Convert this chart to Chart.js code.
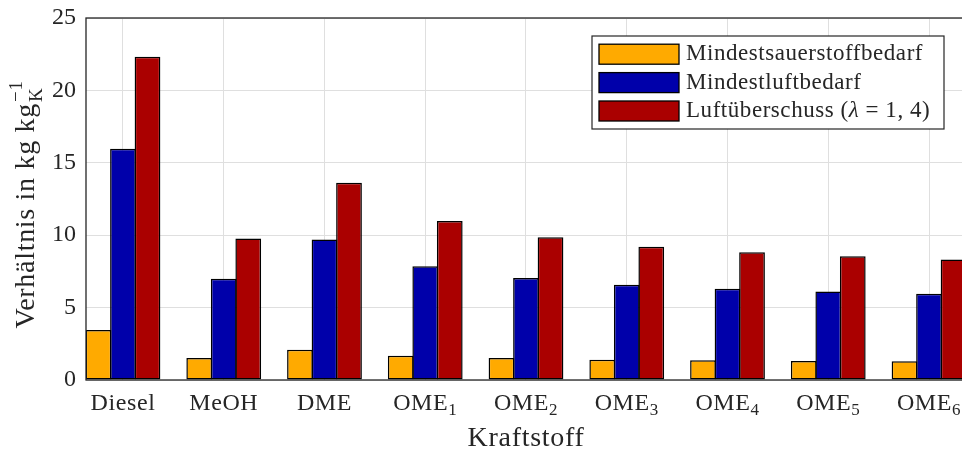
<!DOCTYPE html>
<html>
<head>
<meta charset="utf-8">
<script src="https://cdn.jsdelivr.net/npm/chart.js@4"></script>
<style>
  html, body { margin: 0; padding: 0; background: #fff; overflow: hidden; }
  canvas { display: block; }
</style>
</head>
<body>
<canvas id="chart" width="970" height="456" style="width:970px;height:456px"></canvas>
<script>
// Kraftstoffe (Teil nach "_" wird tiefgestellt)
const categories = ['Diesel', 'MeOH', 'DME', 'OME_1', 'OME_2', 'OME_3', 'OME_4', 'OME_5', 'OME_6'];
const seriesLabels = ['Mindestsauerstoffbedarf', 'Mindestluftbedarf', 'Luftüberschuss (λ = 1, 4)'];
const oxygenMin = [3.45, 1.52, 2.09, 1.68, 1.52, 1.40, 1.36, 1.31, 1.29];
const airMin = [15.97, 7.00, 9.71, 7.85, 7.04, 6.58, 6.31, 6.12, 5.96];
const airExcess = [22.33, 9.78, 13.63, 10.98, 9.85, 9.21, 8.82, 8.54, 8.33];
const yTicks = [0, 5, 10, 15, 20, 25];

const seriesColors = ['#ffaa00', '#0000aa', '#aa0000'];
const axisColor = '#262626';
const fontName = '"Liberation Serif", "Times New Roman", serif';

const toPoints = arr => arr.map((v, i) => ({ x: i, y: v }));

// Achsenbeschriftungen, Rahmen und Legende
const decor = {
    id: 'decor',
    afterDatasetsDraw(chart) {
        const { ctx, chartArea: a, scales } = chart;
        ctx.save();

        // Rahmen (box on)
        ctx.strokeStyle = axisColor;
        ctx.lineWidth = 1.3;
        ctx.strokeRect(a.left, a.top, a.right - a.left, a.bottom - a.top);

        ctx.fillStyle = axisColor;
        ctx.textBaseline = 'alphabetic';

        // x-Tick-Beschriftungen mit Index
        ctx.letterSpacing = '0.6px';
        categories.forEach((label, i) => {
            const [main, sub] = label.split('_');
            const cx = scales.x.getPixelForValue(i);
            ctx.font = '24px ' + fontName;
            const wMain = ctx.measureText(main).width;
            ctx.font = '17px ' + fontName;
            const wSub = sub ? ctx.measureText(sub).width : 0;
            const x0 = cx - (wMain + wSub) / 2;
            ctx.font = '24px ' + fontName;
            ctx.textAlign = 'left';
            ctx.fillText(main, x0, 410);
            if (sub) {
                ctx.font = '17px ' + fontName;
                ctx.fillText(sub, x0 + wMain, 415);
            }
        });

        // x-Achsentitel
        ctx.letterSpacing = '0.7px';
        ctx.font = '28px ' + fontName;
        ctx.textAlign = 'center';
        ctx.fillText('Kraftstoff', (a.left + a.right) / 2, 446);

        // y-Achsentitel: Verhältnis in kg kg_K^-1
        ctx.save();
        ctx.translate(34, (a.top + a.bottom) / 2 + 6);
        ctx.rotate(-Math.PI / 2);
        ctx.textAlign = 'left';
        const mainTxt = 'Verhältnis in kg kg';
        ctx.font = '28px ' + fontName;
        const wm = ctx.measureText(mainTxt).width;
        ctx.font = '19px ' + fontName;
        const wk = ctx.measureText('K').width;
        const ws = ctx.measureText('−1').width;
        const total = wm + Math.max(wk, ws);
        const sx = -total / 2;
        ctx.font = '28px ' + fontName;
        ctx.fillText(mainTxt, sx, 0);
        ctx.font = '19px ' + fontName;
        ctx.fillText('K', sx + wm + 1, 8);
        ctx.fillText('−1', sx + wm + 1, -12);
        ctx.restore();

        // Legende
        const lx = 592, ly = 36, lw = 352, lh = 93;
        ctx.fillStyle = '#fff';
        ctx.fillRect(lx, ly, lw, lh);
        ctx.strokeStyle = axisColor;
        ctx.lineWidth = 1.2;
        ctx.strokeRect(lx, ly, lw, lh);
        ctx.letterSpacing = '0.55px';
        chart.data.datasets.forEach((ds, i) => {
            const cy = 54.2 + i * 28.4;
            ctx.fillStyle = ds.backgroundColor;
            ctx.fillRect(599, cy - 10, 80, 20);
            ctx.strokeStyle = '#000';
            ctx.lineWidth = 1.3;
            ctx.strokeRect(599, cy - 10, 80, 20);
            ctx.fillStyle = axisColor;
            ctx.textAlign = 'left';
            const parts = ds.label.split('λ');
            let tx = 686;
            parts.forEach((p, k) => {
                ctx.font = '23px ' + fontName;
                ctx.fillText(p, tx, cy + 6);
                tx += ctx.measureText(p).width;
                if (k < parts.length - 1) {
                    ctx.font = 'italic 23px ' + fontName;
                    ctx.fillText('λ', tx, cy + 6);
                    tx += ctx.measureText('λ').width;
                }
            });
        });

        ctx.restore();
    }
};

const ctx = document.getElementById('chart').getContext('2d');
new Chart(ctx, {
    type: 'bar',
    data: {
        datasets: [
            { label: seriesLabels[0], data: toPoints(oxygenMin), backgroundColor: seriesColors[0] },
            { label: seriesLabels[1], data: toPoints(airMin), backgroundColor: seriesColors[1] },
            { label: seriesLabels[2], data: toPoints(airExcess), backgroundColor: seriesColors[2] }
        ]
    },
    options: {
        responsive: false,
        animation: false,
        devicePixelRatio: 1,
        layout: { padding: { left: 0, top: 18, right: 4, bottom: 0 } },
        datasets: {
            bar: {
                categoryPercentage: 0.73,
                barPercentage: 1.05,
                borderColor: '#000',
                borderWidth: 1.5,
                borderSkipped: false
            }
        },
        plugins: {
            legend: { display: false },
            tooltip: { enabled: false }
        },
        scales: {
            x: {
                type: 'linear',
                offset: false,
                min: -0.367,
                max: 8.367,
                afterBuildTicks: axis => { axis.ticks = categories.map((c, i) => ({ value: i })); },
                afterFit: axis => { axis.height = 76; axis.paddingLeft = 0; axis.paddingRight = 0; },
                ticks: { display: false },
                grid: { color: '#dfdfdf', lineWidth: 1, drawTicks: false, offset: false },
                border: { display: false }
            },
            y: {
                min: 0,
                max: 25,
                afterBuildTicks: axis => { axis.ticks = yTicks.map(v => ({ value: v })); },
                afterFit: axis => { axis.width = 86; axis.paddingTop = 0; axis.paddingBottom = 0; },
                ticks: {
                    padding: 10,
                    color: axisColor,
                    font: { family: fontName, size: 24 }
                },
                grid: { color: '#dfdfdf', lineWidth: 1, drawTicks: false },
                border: { display: false }
            }
        }
    },
    plugins: [decor]
});
</script>
</body>
</html>
